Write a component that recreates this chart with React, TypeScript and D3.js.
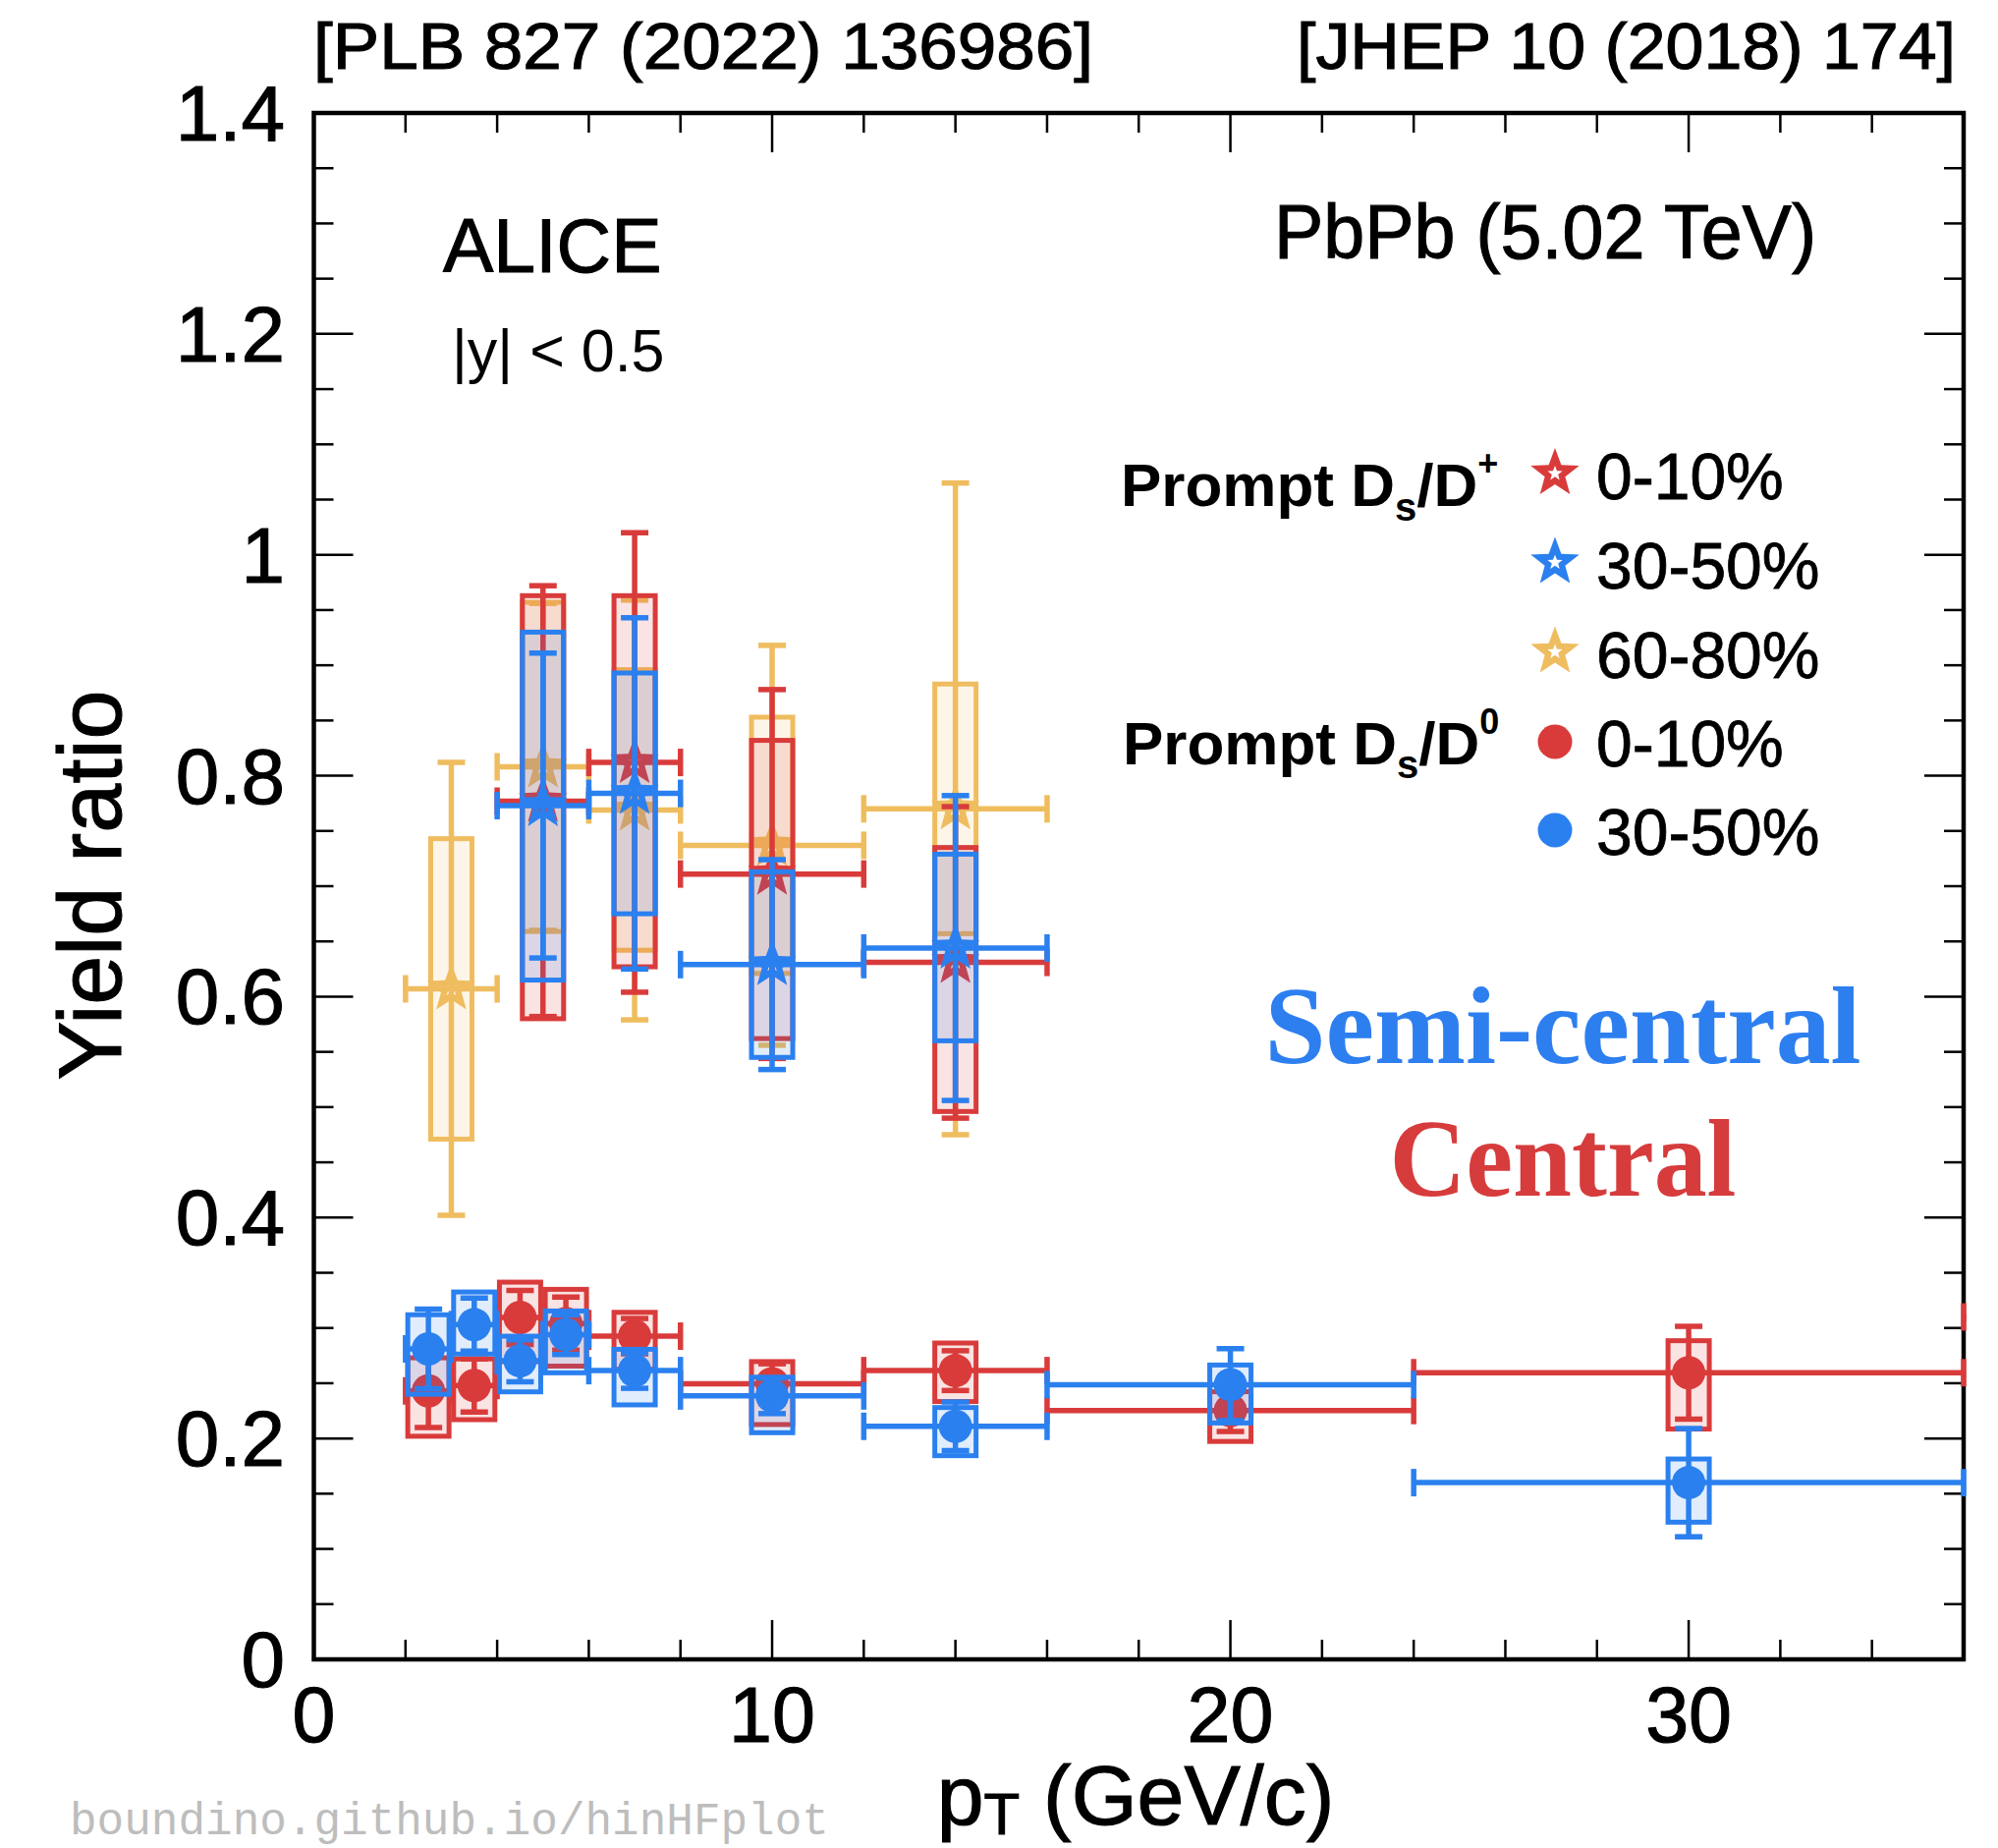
import React from 'react';
import * as d3 from 'd3';

const W = 2034;
const H = 1881;

// ---------- Prompt Ds/D+ (stars) ----------
const dpPt = [5, 7, 10, 14];
const dpLo = [4, 6, 8, 12];
const dpHi = [6, 8, 12, 16];
const dp010Val = [0.777, 0.812, 0.711, 0.631];
const dp010Stat = [0.195, 0.208, 0.167, 0.141];
const dp010SysUp = [0.186, 0.151, 0.121, 0.104];
const dp010SysDn = [0.197, 0.185, 0.149, 0.135];
const dp3050Val = [0.773, 0.784, 0.629, 0.644];
const dp3050Stat = [0.138, 0.159, 0.095, 0.138];
const dp3050SysUp = [0.157, 0.109, 0.084, 0.085];
const dp3050SysDn = [0.158, 0.109, 0.084, 0.084];

const dp6080Pt = [3, 5, 7, 10, 14];
const dp6080Lo = [2, 4, 6, 8, 12];
const dp6080Hi = [4, 6, 8, 12, 16];
const dp6080Val = [0.607, 0.808, 0.769, 0.737, 0.770];
const dp6080Stat = [0.205, 0.148, 0.19, 0.181, 0.295];
const dp6080Sys = [0.136, 0.149, 0.127, 0.116, 0.113];

// ---------- Prompt Ds/D0 (circles) ----------
const d0010Pt = [2.5, 3.5, 4.5, 5.5, 7, 10, 14, 20, 30, 43];
const d0010Lo = [2, 3, 4, 5, 6, 8, 12, 16, 24, 36];
const d0010Hi = [3, 4, 5, 6, 8, 12, 16, 24, 36, 50];
const d0010Val = [0.243, 0.248, 0.3095, 0.304, 0.2926, 0.2496, 0.2614, 0.2253, 0.2595, 0.31];
const d0010Stat = [0.033, 0.024, 0.0245, 0.024, 0.016, 0.018, 0.018, 0.019, 0.042, 0.03];
const d0010SysUp = [0.03, 0.024, 0.032, 0.031, 0.0216, 0.02, 0.025, 0.017, 0.029, 0.03];
const d0010SysDn = [0.041, 0.031, 0.04, 0.0385, 0.03, 0.037, 0.028, 0.028, 0.051, 0.03];

const d03050Pt = [2.5, 3.5, 4.5, 5.5, 7, 10, 14, 20, 30];
const d03050Lo = [2, 3, 4, 5, 6, 8, 12, 16, 24];
const d03050Hi = [3, 4, 5, 6, 8, 12, 16, 24, 36];
const d03050Val = [0.281, 0.303, 0.2703, 0.294, 0.2614, 0.2385, 0.211, 0.2487, 0.16];
const d03050Stat = [0.036, 0.024, 0.019, 0.018, 0.016, 0.016, 0.022, 0.0326, 0.049];
const d03050SysUp = [0.031, 0.0296, 0.0223, 0.0214, 0.0193, 0.017, 0.017, 0.0178, 0.0214];
const d03050SysDn = [0.041, 0.0266, 0.0281, 0.0346, 0.031, 0.0333, 0.0266, 0.0347, 0.0358];

// ---------- axes ----------
const xMajor = [0, 10, 20, 30];
const yMajor = [0, 0.2, 0.4, 0.6, 0.8, 1, 1.2, 1.4];
const yTickLabels = ['0', '0.2', '0.4', '0.6', '0.8', '1', '1.2', '1.4'];

const legendLabels = ['0-10%', '30-50%', '60-80%', '0-10%', '30-50%'];

const RED = '#d93b3b';
const BLUE = '#2b80ef';
const YELLOW = '#efbd5f';

const SANS = '"Liberation Sans", Arial, Helvetica, sans-serif';

const x = d3.scaleLinear().domain([0, 36]).range([319.5, 1999]);
const y = d3.scaleLinear().domain([0, 1.4]).range([1689, 115]);

function starPath(cx: number, cy: number, R: number, hole: number) {
  const pts = (RR: number, rr: number) => {
    let d = '';
    for (let i = 0; i < 10; i++) {
      const a = -Math.PI / 2 + (i * Math.PI) / 5;
      const rad = i % 2 === 0 ? RR : rr;
      d += (i === 0 ? 'M' : 'L') + (cx + rad * Math.cos(a)).toFixed(2) + ',' + (cy + rad * Math.sin(a)).toFixed(2);
    }
    return d + 'Z';
  };
  return pts(R, R * 0.42) + pts(hole, hole * 0.42);
}

type SeriesProps = {
  pt: number[]; lo: number[]; hi: number[]; val: number[]; stat: number[];
  sysUp: number[]; sysDn: number[]; color: string; marker: 'star' | 'circle';
};

function Boxes({ pt, val, sysUp, sysDn, color }: SeriesProps) {
  const bw = 42;
  return (
    <g>
      {pt.map((p, i) => {
        const top = y(val[i] + sysUp[i]);
        const bot = y(val[i] - sysDn[i]);
        return (
          <rect key={i} x={x(p) - bw / 2} y={top} width={bw} height={bot - top}
            fill={color} fillOpacity={0.14} stroke={color} strokeWidth={5} />
        );
      })}
    </g>
  );
}

function Points({ pt, lo, hi, val, stat, color, marker }: SeriesProps) {
  const cap = 14;
  const sw = 5.5;
  return (
    <g stroke={color} strokeWidth={sw}>
      {pt.map((p, i) => {
        const cx = x(p);
        const cy = y(val[i]);
        const yt = y(val[i] + stat[i]);
        const yb = y(val[i] - stat[i]);
        const xl = x(lo[i]);
        const xr = x(hi[i]);
        return (
          <g key={i}>
            <line x1={cx} x2={cx} y1={yt} y2={yb} />
            <line x1={cx - cap} x2={cx + cap} y1={yt} y2={yt} />
            <line x1={cx - cap} x2={cx + cap} y1={yb} y2={yb} />
            <line x1={xl} x2={xr} y1={cy} y2={cy} />
            <line x1={xl} x2={xl} y1={cy - cap} y2={cy + cap} />
            <line x1={xr} x2={xr} y1={cy - cap} y2={cy + cap} />
            {marker === 'circle' ? (
              <circle cx={cx} cy={cy} r={17} fill={color} stroke="none" />
            ) : (
              <path d={starPath(cx, cy, 26, 8)} fill={color} fillRule="evenodd" stroke="none" />
            )}
          </g>
        );
      })}
    </g>
  );
}

const series: SeriesProps[] = [
  { pt: dp6080Pt, lo: dp6080Lo, hi: dp6080Hi, val: dp6080Val, stat: dp6080Stat, sysUp: dp6080Sys, sysDn: dp6080Sys, color: YELLOW, marker: 'star' },
  { pt: dpPt, lo: dpLo, hi: dpHi, val: dp010Val, stat: dp010Stat, sysUp: dp010SysUp, sysDn: dp010SysDn, color: RED, marker: 'star' },
  { pt: dpPt, lo: dpLo, hi: dpHi, val: dp3050Val, stat: dp3050Stat, sysUp: dp3050SysUp, sysDn: dp3050SysDn, color: BLUE, marker: 'star' },
  { pt: d0010Pt, lo: d0010Lo, hi: d0010Hi, val: d0010Val, stat: d0010Stat, sysUp: d0010SysUp, sysDn: d0010SysDn, color: RED, marker: 'circle' },
  { pt: d03050Pt, lo: d03050Lo, hi: d03050Hi, val: d03050Val, stat: d03050Stat, sysUp: d03050SysUp, sysDn: d03050SysDn, color: BLUE, marker: 'circle' },
];

export default function App() {
  const x0 = x(0), x1 = x(36), y0 = y(0), y1 = y(1.4);
  const xMinor = d3.range(2, 36, 2).filter((v) => v % 10 !== 0);
  const yMinor = d3.range(0.05, 1.4, 0.05).filter((v) => Math.abs(v * 5 - Math.round(v * 5)) > 1e-6);
  const major = 40, minor = 20;

  const legendBase = [508, 598.5, 689.5, 780, 870];
  const legendColors = [RED, BLUE, YELLOW, RED, BLUE];
  const legendMarkers = ['star', 'star', 'star', 'circle', 'circle'];
  const lx = 1583;
  const heavy = { stroke: '#000', strokeWidth: 1.1 };

  return (
    <svg width={W} height={H} style={{ position: 'absolute', left: 0, top: 0, display: 'block', background: '#fff' }}
      fontFamily={SANS}>
      <defs>
        <clipPath id="plotclip">
          <rect x={x0 - 3} y={y1 - 3} width={x1 - x0 + 6} height={y0 - y1 + 6} />
        </clipPath>
      </defs>
      <rect x={0} y={0} width={W} height={H} fill="#fff" />

      {/* frame */}
      <rect x={x0} y={y1} width={x1 - x0} height={y0 - y1} fill="none" stroke="#000" strokeWidth={4.5} />
      <g stroke="#000" strokeWidth={2.5}>
        {xMajor.map((v) => (
          <g key={'xm' + v}>
            <line x1={x(v)} x2={x(v)} y1={y0} y2={y0 - major} />
            <line x1={x(v)} x2={x(v)} y1={y1} y2={y1 + major} />
          </g>
        ))}
        {xMinor.map((v) => (
          <g key={'xn' + v}>
            <line x1={x(v)} x2={x(v)} y1={y0} y2={y0 - minor} />
            <line x1={x(v)} x2={x(v)} y1={y1} y2={y1 + minor} />
          </g>
        ))}
        {yMajor.map((v) => (
          <g key={'ym' + v}>
            <line x1={x0} x2={x0 + major} y1={y(v)} y2={y(v)} />
            <line x1={x1} x2={x1 - major} y1={y(v)} y2={y(v)} />
          </g>
        ))}
        {yMinor.map((v) => (
          <g key={'yn' + v}>
            <line x1={x0} x2={x0 + minor} y1={y(v)} y2={y(v)} />
            <line x1={x1} x2={x1 - minor} y1={y(v)} y2={y(v)} />
          </g>
        ))}
      </g>

      {/* tick labels */}
      <g fontSize={80} textAnchor="end" fill="#000" {...heavy}>
        {yMajor.map((v, i) => (
          <text key={'yl' + v} x={290} y={y(v) + 28}>{yTickLabels[i]}</text>
        ))}
      </g>
      <g fontSize={79} textAnchor="middle" fill="#000" {...heavy}>
        {xMajor.map((v) => (
          <text key={'xl' + v} x={x(v)} y={1773}>{String(v)}</text>
        ))}
      </g>

      {/* axis titles */}
      <text transform="translate(123,901) rotate(-90)" textAnchor="middle" fontSize={90} {...heavy}>Yield ratio</text>
      <text x={1156} y={1857} textAnchor="middle" fontSize={86} {...heavy}>
        p<tspan fontSize={60} dy={10}>T</tspan><tspan dy={-10}> (GeV/c)</tspan>
      </text>

      {/* data */}
      <g clipPath="url(#plotclip)">
        {series.map((s, k) => (
          <g key={k}>
            <Boxes {...s} />
            <Points {...s} />
          </g>
        ))}
      </g>

      {/* header */}
      <text x={319} y={70} fontSize={66} textLength={794} lengthAdjust="spacingAndGlyphs" {...heavy}>[PLB 827 (2022) 136986]</text>
      <text x={1320} y={70} fontSize={66} textLength={671} lengthAdjust="spacingAndGlyphs" {...heavy}>[JHEP 10 (2018) 174]</text>

      {/* labels */}
      <text x={451} y={277} fontSize={77} {...heavy}>ALICE</text>
      <text x={460} y={378} fontSize={61}>|y| &lt; 0.5</text>
      <text x={1297} y={263} fontSize={77} textLength={552} lengthAdjust="spacingAndGlyphs" {...heavy}>PbPb (5.02 TeV)</text>

      {/* legend */}
      <text x={1141} y={515} fontSize={62} fontWeight="bold">
        Prompt D<tspan fontSize={40} dy={15}>s</tspan><tspan dy={-15}>/D</tspan><tspan fontSize={36} dy={-31}>+</tspan>
      </text>
      <text x={1143} y={778} fontSize={62} fontWeight="bold">
        Prompt D<tspan fontSize={40} dy={14}>s</tspan><tspan dy={-14}>/D</tspan><tspan fontSize={36} dy={-31}>0</tspan>
      </text>
      {legendLabels.map((lab, i) => (
        <g key={'lg' + i}>
          {legendMarkers[i] === 'star' ? (
            <path d={starPath(lx, legendBase[i] - 26, 26, 8)} fill={legendColors[i]} fillRule="evenodd" />
          ) : (
            <circle cx={lx} cy={legendBase[i] - 25} r={17.5} fill={legendColors[i]} />
          )}
          <text x={1625} y={legendBase[i]} fontSize={66} stroke="#000" strokeWidth={0.8}>{lab}</text>
        </g>
      ))}

      {/* annotations */}
      <text x={1591} y={1082} textAnchor="middle" fontSize={112} fontWeight="bold"
        fontFamily='"Liberation Serif", "Times New Roman", serif' fill="#2d7ff0"
        textLength={607} lengthAdjust="spacingAndGlyphs">Semi-central</text>
      <text x={1591} y={1217} textAnchor="middle" fontSize={112} fontWeight="bold"
        fontFamily='"Liberation Serif", "Times New Roman", serif' fill="#d63c3c"
        textLength={353} lengthAdjust="spacingAndGlyphs">Central</text>

      {/* watermark */}
      <text x={71} y={1867} fontSize={46} fontFamily='"Liberation Mono", "DejaVu Sans Mono", monospace' fill="#bdbdbd">
        boundino.github.io/hinHFplot
      </text>
    </svg>
  );
}
